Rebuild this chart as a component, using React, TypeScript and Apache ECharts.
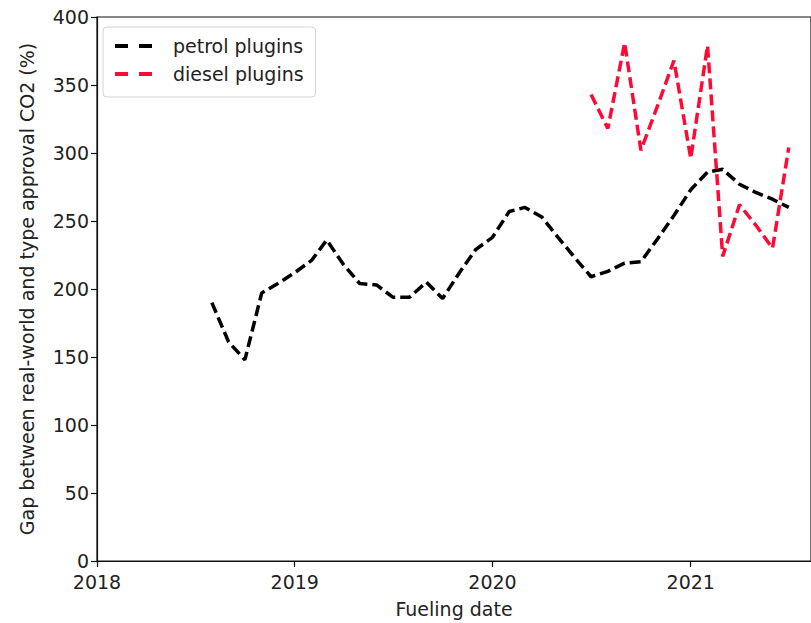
import React, { useEffect, useRef } from 'react';
import * as echarts from 'echarts';

const petrolMonths = [
  '2018-08', '2018-09', '2018-10', '2018-11', '2018-12',
  '2019-01', '2019-02', '2019-03', '2019-04', '2019-05', '2019-06',
  '2019-07', '2019-08', '2019-09', '2019-10', '2019-11', '2019-12',
  '2020-01', '2020-02', '2020-03', '2020-04', '2020-05', '2020-06',
  '2020-07', '2020-08', '2020-09', '2020-10', '2020-11', '2020-12',
  '2021-01', '2021-02', '2021-03', '2021-04', '2021-05', '2021-06', '2021-07',
];
const petrolValues = [
  190, 161, 148, 197, 204,
  212, 221, 236, 218, 204, 203,
  194, 194, 205, 193, 212, 229,
  238, 257, 260, 253, 238, 223,
  209, 213, 219, 220, 237, 254,
  273, 286, 288, 277, 271, 266, 260,
];

const dieselMonths = [
  '2020-07', '2020-08', '2020-09', '2020-10', '2020-11', '2020-12',
  '2021-01', '2021-02', '2021-03', '2021-04', '2021-05', '2021-06', '2021-07',
];
const dieselValues = [343, 318, 381, 302, 335, 368, 296, 379, 224, 262, 247, 230, 304];

const xTickYears = [2018, 2019, 2020, 2021];
const xMin = '2018-01-01';
const xMax = '2021-08-11';

const toTs = (s: string) => {
  const p = s.split('-').map(Number);
  return Date.UTC(p[0], p[1] - 1, p[2] || 1);
};

export default function App() {
  const ref = useRef<HTMLDivElement>(null);
  useEffect(() => {
    if (!ref.current) return;
    const chart = echarts.init(ref.current, undefined, { renderer: 'svg' });
    const font = 'DejaVu Sans';
    const fs = 19;
    const yearTs = xTickYears.map((y) => Date.UTC(y, 0, 1));
    const dashIcon = 'path://M0,0H13V4H0Z M24,0H37V4H24Z';
    chart.setOption({
      animation: false,
      backgroundColor: '#ffffff',
      textStyle: { fontFamily: font },
      grid: {
        left: 97,
        right: -2,
        top: 17,
        bottom: 62,
        show: true,
        borderColor: '#111',
        borderWidth: 1.2,
        backgroundColor: 'transparent',
      },
      legend: {
        left: 103,
        top: 27,
        orient: 'vertical',
        itemWidth: 37,
        itemHeight: 4,
        itemGap: 8,
        padding: [9, 12, 13, 12],
        backgroundColor: 'rgba(255,255,255,0.85)',
        borderColor: '#d3d3d3',
        borderWidth: 1,
        borderRadius: 4,
        textStyle: {
          fontFamily: font,
          fontSize: fs,
          color: '#222',
          lineHeight: 20,
          padding: [0, 0, 0, 16],
        },
        data: [
          { name: 'petrol plugins', icon: dashIcon },
          { name: 'diesel plugins', icon: dashIcon },
        ],
      },
      xAxis: {
        type: 'value',
        min: toTs(xMin),
        max: toTs(xMax),
        name: 'Fueling date',
        nameLocation: 'middle',
        nameGap: 38,
        nameTextStyle: { fontFamily: font, fontSize: fs, color: '#222' },
        axisLine: { show: true, lineStyle: { color: '#111', width: 1.2 } },
        axisTick: { show: true, length: 6, lineStyle: { color: '#111', width: 1.2 }, customValues: yearTs },
        axisLabel: {
          customValues: yearTs,
          fontFamily: font,
          fontSize: fs,
          color: '#222',
          margin: 11,
          formatter: (v: number) => String(new Date(v).getUTCFullYear()),
        },
        splitLine: { show: false },
      },
      yAxis: {
        type: 'value',
        min: 0,
        max: 400,
        interval: 50,
        name: 'Gap between real-world and type approval CO2 (%)',
        nameLocation: 'middle',
        nameGap: 61,
        nameTextStyle: { fontFamily: font, fontSize: fs, color: '#222' },
        axisLine: { show: true, lineStyle: { color: '#111', width: 1.2 } },
        axisTick: { show: true, length: 6, lineStyle: { color: '#111', width: 1.2 } },
        axisLabel: { fontFamily: font, fontSize: fs, color: '#222', margin: 8 },
        splitLine: { show: false },
      },
      series: [
        {
          name: 'petrol plugins',
          type: 'line',
          color: '#000000',
          symbol: 'none',
          showSymbol: false,
          lineStyle: { color: '#000000', width: 3.5, type: [11, 5] },
          data: petrolMonths.map((m, i) => [toTs(m), petrolValues[i]]),
        },
        {
          name: 'diesel plugins',
          type: 'line',
          color: '#ff0a35',
          symbol: 'none',
          showSymbol: false,
          lineStyle: { color: '#ff0a35', width: 3.5, type: [11, 5] },
          data: dieselMonths.map((m, i) => [toTs(m), dieselValues[i]]),
        },
      ],
    });
    return () => chart.dispose();
  }, []);
  return (
    <div
      ref={ref}
      style={{ position: 'fixed', left: 0, top: 0, width: 811, height: 623, background: '#fff' }}
    />
  );
}
